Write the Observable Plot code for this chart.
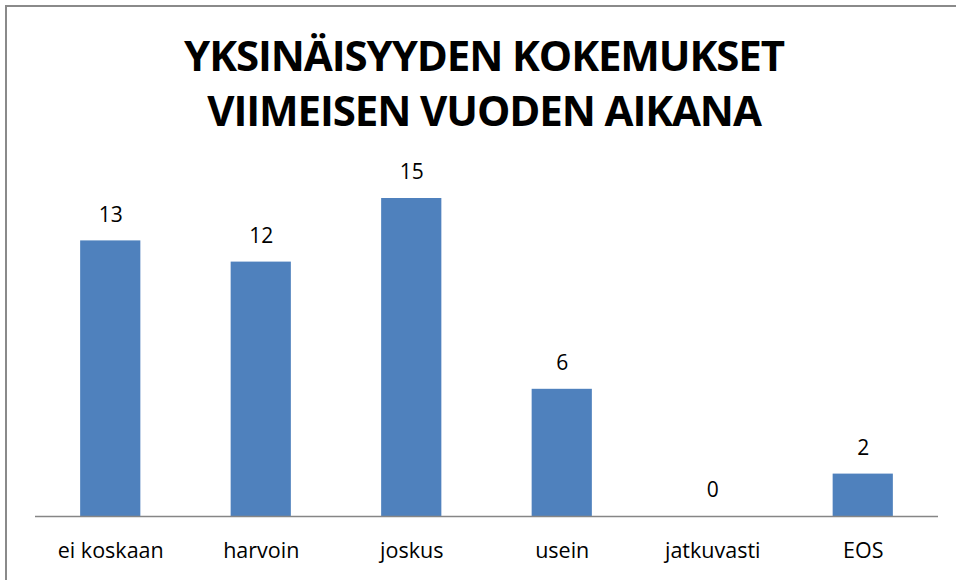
<!DOCTYPE html>
<html>
<head>
<meta charset="utf-8">
<script src="https://cdn.jsdelivr.net/npm/d3@7"></script>
<script src="https://cdn.jsdelivr.net/npm/@observablehq/plot@0.6"></script>
<style>
  html, body { margin: 0; padding: 0; background: #fff; }
  #wrap { position: relative; width: 956px; height: 580px; overflow: hidden; background: #fff; }
  #frame { position: absolute; left: 5px; top: 5px; width: 1100px; height: 1100px; border: 2px solid #8a8a8a; box-sizing: border-box; }
  .title { position: absolute; left: 0; width: 968px; text-align: center; font-family: "Open Sans", sans-serif; font-weight: 700; font-size: 42px; color: #000; letter-spacing: -1.1px; white-space: nowrap; line-height: 1; }
  #t1 { top: 34px; }
  #t2 { top: 89px; }
  #chart { position: absolute; left: 0; top: 0; }
</style>
</head>
<body>
<div id="wrap">
  <div id="frame"></div>
  <div class="title" id="t1">YKSINÄISYYDEN KOKEMUKSET</div>
  <div class="title" id="t2">VIIMEISEN VUODEN AIKANA</div>
  <div id="chart"></div>
</div>
<script>
const categories = ["ei koskaan", "harvoin", "joskus", "usein", "jatkuvasti", "EOS"];
const values = [13, 12, 15, 6, 0, 2];

const data = categories.map((c, i) => ({category: c, value: values[i]}));

const chart = Plot.plot({
  width: 956,
  height: 580,
  marginLeft: 35,
  marginRight: 18,
  marginTop: 198,
  marginBottom: 64,
  style: {fontFamily: "'Open Sans', sans-serif", background: "transparent", overflow: "visible"},
  x: {domain: categories, paddingInner: 0.6, paddingOuter: 0.3, round: false, label: null},
  y: {domain: [0, 15], axis: null},
  marks: [
    Plot.barY(data, {x: "category", y: "value", fill: "#4F81BD"}),
    Plot.ruleY([0], {stroke: "#868686", strokeWidth: 1.5}),
    Plot.text(data, {x: "category", y: "value", text: d => String(d.value), dy: -26, fontSize: 21, fill: "#000"}),
    Plot.axisX({tickSize: 0, tickPadding: 26, fontSize: 21.5, label: null, fill: "#000"})
  ]
});
document.getElementById("chart").appendChild(chart);
</script>
</body>
</html>
